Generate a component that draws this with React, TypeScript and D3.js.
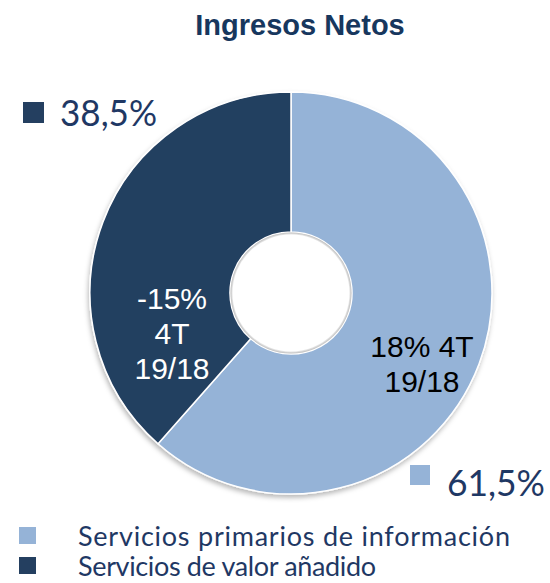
import React from "react";
import * as d3 from "d3";

const title = "Ingresos Netos";
const categories = ["Servicios primarios de información", "Servicios de valor añadido"];
const shares = [61.5, 38.5];
const shareLabels = ["61,5%", "38,5%"];
const innerLabels = [["18% 4T", "19/18"], ["-15%", "4T", "19/18"]];
const colors = ["#95B3D7", "#243F60"];

const W = 550;
const H = 583;
const cx = 291;
const cy = 293;
const outerR = 201;
const innerR = 61;

export default function App() {
  const pie = d3.pie<number>().sort(null).value((d) => d).startAngle(0).endAngle(2 * Math.PI);
  const arcs = pie(shares);
  const arc = d3.arc<d3.PieArcDatum<number>>().innerRadius(innerR).outerRadius(outerR);

  return (
    <svg
      width={W}
      height={H}
      style={{ position: "absolute", left: 0, top: 0, background: "#fff" }}
    >
      <defs>
        <filter id="sh" x="-20%" y="-20%" width="140%" height="140%">
          <feDropShadow dx="-1" dy="3" stdDeviation="2.5" floodColor="#000" floodOpacity="0.28" />
        </filter>
        <radialGradient id="hole" cx="0.5" cy="0.5" r="0.5">
          <stop offset="0.85" stopColor="#ffffff" />
          <stop offset="0.97" stopColor="#e6e6e6" />
          <stop offset="1" stopColor="#bdbdbd" />
        </radialGradient>
      </defs>
      <text
        x={300}
        y={35}
        textAnchor="middle"
        fontFamily="'Liberation Sans', Arial, sans-serif"
        fontWeight="bold"
        fontSize={29}
        fill="#17375E"
      >
        {title}
      </text>
      <g transform={`translate(${cx},${cy})`}>
        <g filter="url(#sh)">
          {arcs.map((a, i) => (
            <path key={i} d={arc(a) || ""} fill={colors[i]} stroke="#fff" strokeWidth={1.5} />
          ))}
        </g>
        <circle r={innerR - 0.5} fill="url(#hole)" />
        <circle r={innerR - 2.5} fill="#fff" />
      </g>
      {/* inner labels */}
      <g fontFamily="'Liberation Sans', Arial, sans-serif" fontSize={30} textAnchor="middle">
        {innerLabels[0].map((t, j) => (
          <text key={"a" + j} x={422} y={357 + j * 35} fill="#000">
            {t}
          </text>
        ))}
        {innerLabels[1].map((t, j) => (
          <text key={"b" + j} x={172} y={309 + j * 35} fill="#fff">
            {t}
          </text>
        ))}
      </g>
      {/* share labels */}
      <g fontFamily="Lato, 'Open Sans', sans-serif" fontSize={36} fill="#1F3864">
        <rect x={23} y={102} width={21} height={21} fill={colors[1]} />
        <text x={60} y={126} textLength={97} lengthAdjust="spacingAndGlyphs">
          {shareLabels[1]}
        </text>
        <rect x={410} y={465} width={20} height={20} fill={colors[0]} />
        <text x={447} y={496} textLength={98} lengthAdjust="spacingAndGlyphs">
          {shareLabels[0]}
        </text>
      </g>
      {/* legend */}
      <g fontFamily="Lato, 'Open Sans', sans-serif" fontSize={27} fill="#1F3864">
        {categories.map((c, i) => (
          <g key={c}>
            <rect x={19} y={527 + i * 30} width={17} height={17} fill={colors[i]} />
            <text
              x={78}
              y={546 + i * 30}
              textLength={i === 0 ? 432 : 298}
              lengthAdjust="spacing"
            >
              {c}
            </text>
          </g>
        ))}
      </g>
    </svg>
  );
}
